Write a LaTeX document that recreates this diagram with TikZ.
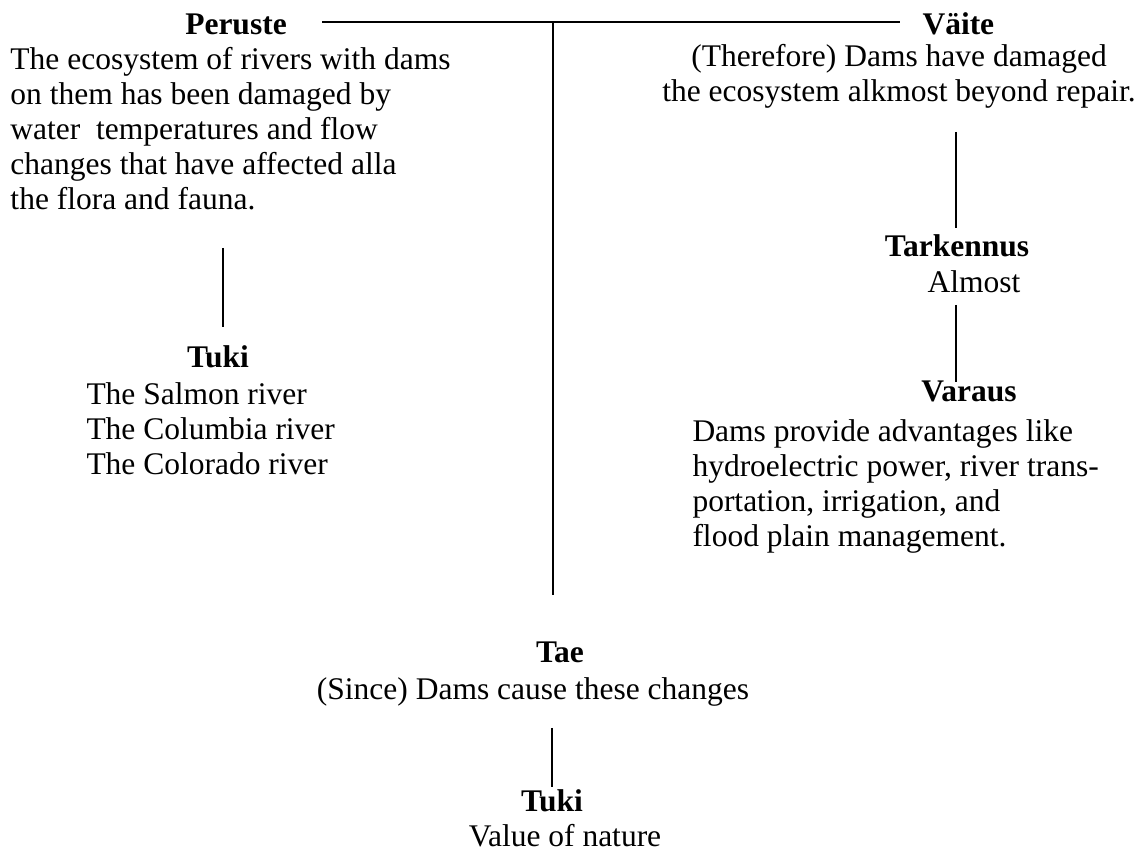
\documentclass[tikz,border=0pt]{standalone}
\usepackage{fontspec}
\setmainfont{Liberation Serif}
\usetikzlibrary{positioning}
\newcommand\txtsize{\fontsize{12.6}{14}\selectfont}
\tikzset{
txt/.style={
  font=\txtsize,
  inner sep=0pt,
  anchor=base
  },
head/.style={
  txt,
  font=\txtsize\bfseries
  },
para/.style={
  txt,
  align=left,
  anchor=north west
  },
link/.style={
  line width=0.6pt
  }
}

\begin{document}
\begin{tikzpicture}[x=0.4pt,y=-0.4pt]
\useasboundingbox (0,0) rectangle (1148,851);

\node[head] (peruste) at (236,35) {Peruste};
\node[head,anchor=base west] (vaite) at (922,35) {Väite};
\node[para] (data) at (10,47)
{The ecosystem of rivers with dams\\
on them has been damaged by\\
water\ \ temperatures and flow\\
changes that have affected alla\\
the flora and fauna.};
\node[para,align=center,anchor=north] (claim) at (899,44)
{(Therefore) Dams have damaged\\
the ecosystem alkmost beyond repair.};

\node[head] (tuki1) at (218,368) {Tuki};
\node[para] (backing1) at (86,382)
{The Salmon river\\
The Columbia river\\
The Colorado river};

\node[head] (tark) at (957,257) {Tarkennus};
\node[txt] (almost) at (974,293) {Almost};
\node[head] (varaus) at (969,402) {Varaus};
\node[para] (rebuttal) at (692,419)
{Dams provide advantages like\\
hydroelectric power, river trans-\\
portation, irrigation, and\\
flood plain management.};

\node[head] (tae) at (560,663) {Tae};
\node[txt] (warrant) at (533,700) {(Since) Dams cause these changes};
\node[head] (tuki2) at (552,812) {Tuki};
\node[txt] (backing2) at (565,847) {Value of nature};

% main cross
\begin{scope}
\coordinate(top) at (553,22);
\coordinate(bleft) at (322,22);
\coordinate(bright) at (900,22);
\coordinate(bdown) at (553,595);
\draw[link] (bleft) -- (top) -- (bright);
\draw[link] (top) -- (bdown);
\end{scope}

\begin{scope}
\coordinate(bup) at (223,248);
\coordinate(bdown) at (223,327);
\draw[link] (bup) -- (bdown);
\end{scope}

\begin{scope}
\coordinate(bup) at (956,132);
\coordinate(bdown) at (956,228);
\draw[link] (bup) -- (bdown);
\end{scope}

\begin{scope}
\coordinate(bup) at (956,305);
\coordinate(bdown) at (956,382);
\draw[link] (bup) -- (bdown);
\end{scope}

\begin{scope}
\coordinate(bup) at (552,728);
\coordinate(bdown) at (552,787);
\draw[link] (bup) -- (bdown);
\end{scope}

\end{tikzpicture}
\end{document}
